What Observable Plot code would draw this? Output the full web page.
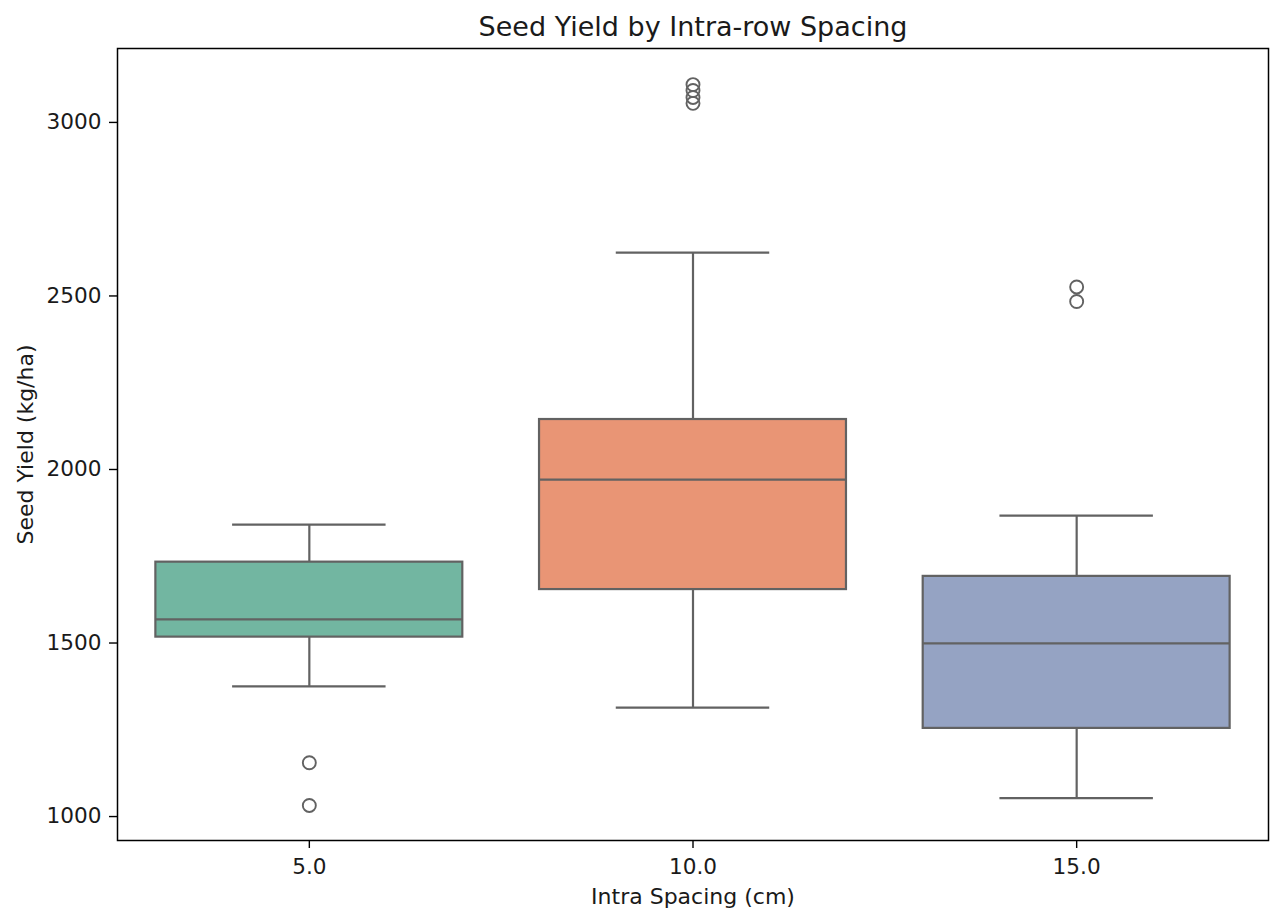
<!DOCTYPE html>
<html>
<head>
<meta charset="utf-8">
<script src="https://cdn.jsdelivr.net/npm/d3@7"></script>
<script src="https://cdn.jsdelivr.net/npm/@observablehq/plot@0.6"></script>
<style>
  html, body { margin: 0; padding: 0; background: #fff; }
  #chart svg { display: block; }
</style>
</head>
<body>
<div id="chart"></div>
<script>
// ---- data ----
const spacings    = ["5.0", "10.0", "15.0"];
const whiskerLow  = [1375, 1314, 1053];
const q1          = [1517, 1654, 1254];
const median      = [1568, 1971, 1499];
const q3          = [1733, 2144, 1692];
const whiskerHigh = [1841, 2625, 1867];
const outliers    = [[1155, 1032], [3109, 3092, 3072, 3055], [2526, 2484]];
const yTicks      = [1000, 1500, 2000, 2500, 3000];

const title  = "Seed Yield by Intra-row Spacing";
const xLabel = "Intra Spacing (cm)";
const yLabel = "Seed Yield (kg/ha)";

// styles
const palette   = ["#72b6a1", "#e99575", "#95a3c3"];
const lineColor = "#626262";
const lw = 2.2;
const boxHalf = 0.4, capHalf = 0.2;

const rows = spacings.map((s, i) => ({
  i, s, lo: whiskerLow[i], q1: q1[i], med: median[i], q3: q3[i], hi: whiskerHigh[i], fill: palette[i]
}));
const outRows = outliers.flatMap((vals, i) => vals.map(v => ({i, v})));

const chart = Plot.plot({
  width: 1272,
  height: 908,
  marginLeft: 117,
  marginRight: 4,
  marginTop: 48,
  marginBottom: 68,
  style: {fontFamily: "DejaVu Sans", fontSize: "21.6px", color: "black", background: "white"},
  x: {type: "linear", domain: [-0.5, 2.5]},
  y: {domain: [931, 3213]},
  marks: [
    // whiskers
    Plot.ruleX(rows, {x: "i", y1: "lo", y2: "q1", stroke: lineColor, strokeWidth: lw}),
    Plot.ruleX(rows, {x: "i", y1: "q3", y2: "hi", stroke: lineColor, strokeWidth: lw}),
    // caps
    Plot.ruleY(rows, {y: "lo", x1: d => d.i - capHalf, x2: d => d.i + capHalf, stroke: lineColor, strokeWidth: lw}),
    Plot.ruleY(rows, {y: "hi", x1: d => d.i - capHalf, x2: d => d.i + capHalf, stroke: lineColor, strokeWidth: lw}),
    // boxes
    Plot.rect(rows, {x1: d => d.i - boxHalf, x2: d => d.i + boxHalf, y1: "q1", y2: "q3", fill: "fill", stroke: lineColor, strokeWidth: lw}),
    // medians
    Plot.ruleY(rows, {y: "med", x1: d => d.i - boxHalf, x2: d => d.i + boxHalf, stroke: lineColor, strokeWidth: lw}),
    // outliers
    Plot.dot(outRows, {x: "i", y: "v", r: 6.5, stroke: lineColor, strokeWidth: 1.9, fill: "none"}),
    // axes
    Plot.axisY({ticks: yTicks, tickFormat: d => String(d), tickSize: 8, tickPadding: 8, label: null, strokeWidth: 1.4, stroke: "black", fill: "#1a1a1a"}),
    Plot.axisX({ticks: [0, 1, 2], tickFormat: i => spacings[i], tickSize: 8, tickPadding: 10, label: null, strokeWidth: 1.4, stroke: "black", fill: "#1a1a1a"}),
    Plot.frame({stroke: "black", strokeWidth: 1.5}),
    // texts
    Plot.text([title], {frameAnchor: "top", lineAnchor: "bottom", dy: -13, fontSize: 27, fill: "#1a1a1a"}),
    Plot.text([xLabel], {frameAnchor: "bottom", lineAnchor: "bottom", dy: 63, fontSize: 22, fill: "#1a1a1a"}),
    Plot.text([yLabel], {frameAnchor: "left", textAnchor: "middle", lineAnchor: "bottom", rotate: -90, dx: -85, fontSize: 22, fill: "#1a1a1a"})
  ]
});
document.getElementById("chart").appendChild(chart);
</script>
</body>
</html>
